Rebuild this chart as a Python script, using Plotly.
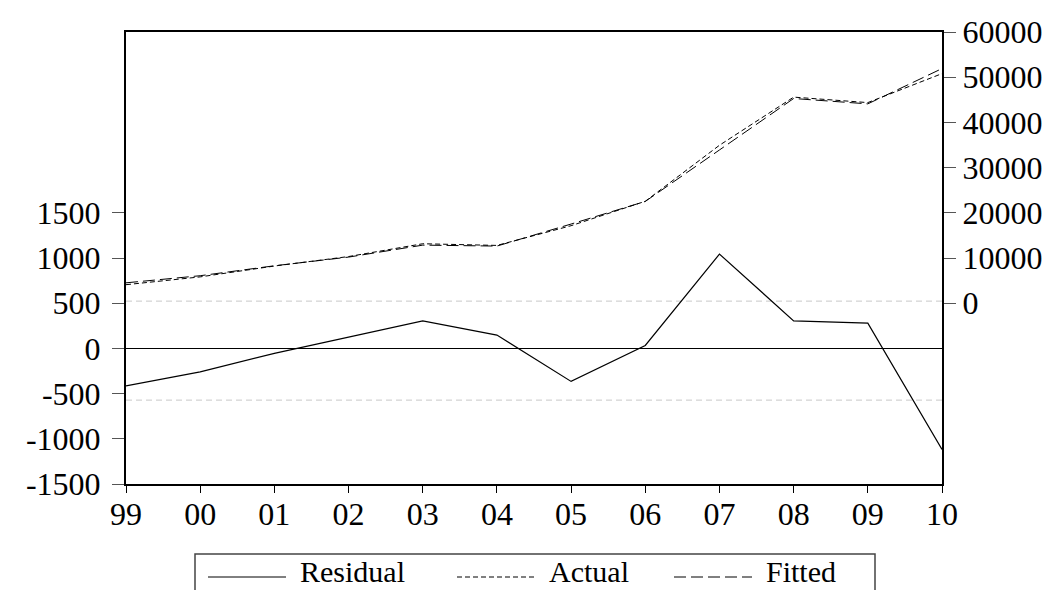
import plotly.graph_objects as go

# ---------------- data ----------------
years = ["99", "00", "01", "02", "03", "04", "05", "06", "07", "08", "09", "10"]
residual = [-414, -259, -55, 122, 305, 147, -365, 33, 1043, 305, 280, -1117]
actual = [4093, 5820, 8222, 10321, 13152, 12784, 17147, 22546, 34941, 45592, 44380, 50792]
fitted = [4507, 6080, 8278, 10199, 12847, 12637, 17513, 22514, 33899, 45287, 44100, 51909]

left_ticks = [-1500, -1000, -500, 0, 500, 1000, 1500]
left_labels = ["-1500", "-1000", "-500", "0", "500", "1000", "1500"]
right_ticks = [0, 10000, 20000, 30000, 40000, 50000, 60000]
right_labels = ["0", "10000", "20000", "30000", "40000", "50000", "60000"]
band_upper = 523
band_lower = -572

# ---------------- layout geometry ----------------
W, H = 1059, 590
L, R, T, B = 126, 942, 32, 484
PW, PH = R - L, B - T

def px(x):
    return (x - L) / PW

def py(y):
    return (B - y) / PH

FONT = "Liberation Serif, Times New Roman, serif"

fig = go.Figure()

fig.add_trace(go.Scatter(x=years, y=residual, name="Residual", mode="lines",
                         line=dict(color="black", width=1.2), yaxis="y",
                         showlegend=False))
fig.add_trace(go.Scatter(x=years, y=actual, name="Actual", mode="lines",
                         line=dict(color="black", width=1, dash="5px,3px"),
                         yaxis="y2", showlegend=False))
fig.add_trace(go.Scatter(x=years, y=fitted, name="Fitted", mode="lines",
                         line=dict(color="black", width=1, dash="12px,5px"),
                         yaxis="y2", showlegend=False))

shapes = []
for v in (band_upper, band_lower):
    shapes.append(dict(type="line", xref="paper", yref="y", x0=0, x1=1, y0=v, y1=v,
                       line=dict(color="#c8c8c8", width=1, dash="6px,4px"), layer="below"))

# manual legend (box cut off by bottom edge like reference)
shapes.append(dict(type="rect", xref="paper", yref="paper",
                   x0=px(195), x1=px(875), y0=py(554), y1=py(640),
                   line=dict(color="#444444", width=1.5)))
leg_y = 577
samples = [
    (208, 286, None, "Residual", 298),
    (457, 535, "5px,3px", "Actual", 547),
    (674, 752, "12px,5px", "Fitted", 764),
]
annotations = []
for x0, x1, dash, label, tx in samples:
    ln = dict(color="black", width=1)
    if dash:
        ln["dash"] = dash
    shapes.append(dict(type="line", xref="paper", yref="paper",
                       x0=px(x0), x1=px(x1), y0=py(leg_y), y1=py(leg_y), line=ln))
    annotations.append(dict(text=label, xref="paper", yref="paper", x=px(tx), y=py(571),
                            xanchor="left", yanchor="middle", showarrow=False,
                            font=dict(family=FONT, size=30, color="black")))

tickfont = dict(family=FONT, size=32, color="black")

fig.update_layout(
    width=W, height=H,
    margin=dict(l=L, r=W - R, t=T, b=H - B, autoexpand=False),
    paper_bgcolor="white", plot_bgcolor="white",
    font=dict(family=FONT, size=32, color="black"),
    xaxis=dict(type="category", range=[0, 11], showgrid=False,
               showline=True, linecolor="black", linewidth=2, mirror=True,
               ticks="outside", ticklen=7, tickwidth=1, tickcolor="black",
               ticklabelstandoff=-6, tickfont=tickfont),
    yaxis=dict(range=[-1500, 3500], tickvals=left_ticks, ticktext=left_labels,
               showgrid=False,
               zeroline=True, zerolinecolor="black", zerolinewidth=1,
               showline=True, linecolor="black", linewidth=2,
               ticks="outside", ticklen=12, tickwidth=1, tickcolor="#555555",
               ticklabelstandoff=5, tickfont=tickfont),
    yaxis2=dict(range=[-40000, 60000], tickvals=right_ticks, ticktext=right_labels,
                overlaying="y", side="right", showgrid=False, zeroline=False,
                showline=True, linecolor="black", linewidth=2,
                ticks="outside", ticklen=12, tickwidth=1, tickcolor="#555555",
                ticklabelstandoff=0, tickfont=tickfont),
    shapes=shapes,
    annotations=annotations,
    showlegend=False,
)

fig.write_html("out.html", config={"displayModeBar": False},
               post_script="document.body.style.margin='0';document.body.style.overflow='hidden';")
